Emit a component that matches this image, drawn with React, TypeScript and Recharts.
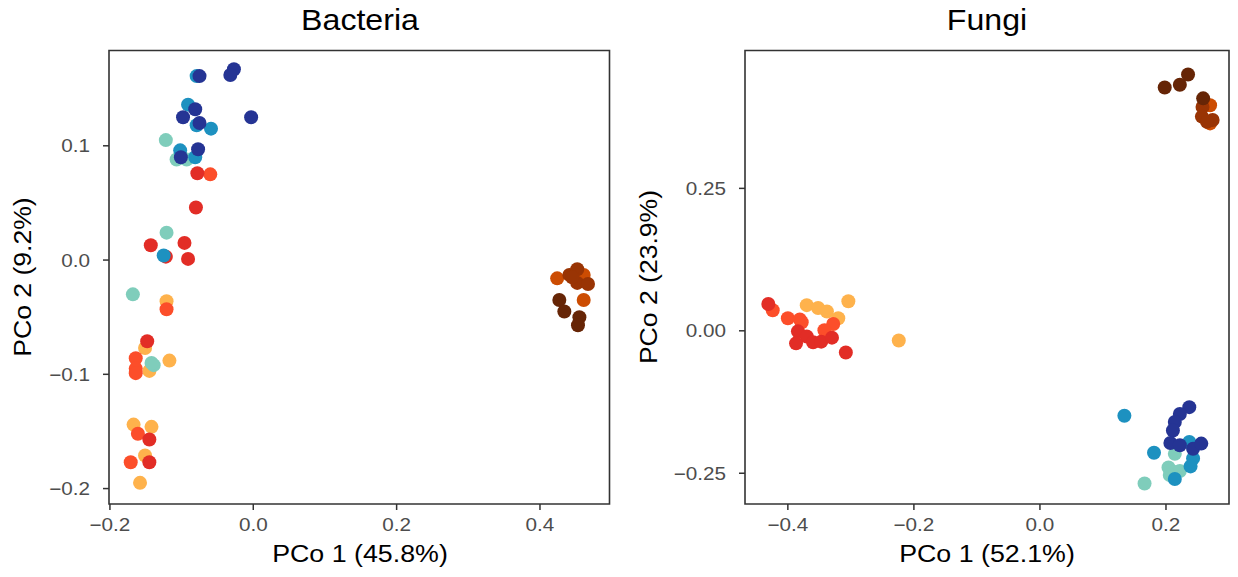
import React from 'react';
import { ScatterChart, Scatter, XAxis, YAxis, ReferenceArea } from 'recharts';

// ---------- Bacteria (left panel) ----------
const bactLightOrange = [
  { x: -0.121, y: -0.036 }, { x: -0.151, y: -0.077 }, { x: -0.117, y: -0.088 }, { x: -0.145, y: -0.097 },
  { x: -0.167, y: -0.144 }, { x: -0.142, y: -0.146 }, { x: -0.151, y: -0.171 }, { x: -0.158, y: -0.195 },
];
const bactOrangeRed = [
  { x: -0.060, y: 0.075 }, { x: -0.121, y: -0.043 }, { x: -0.164, y: -0.086 }, { x: -0.164, y: -0.095 },
  { x: -0.164, y: -0.099 }, { x: -0.161, y: -0.152 }, { x: -0.171, y: -0.177 },
];
const bactRed = [
  { x: -0.078, y: 0.076 }, { x: -0.080, y: 0.046 }, { x: -0.143, y: 0.013 }, { x: -0.096, y: 0.015 },
  { x: -0.122, y: 0.003 }, { x: -0.091, y: 0.001 }, { x: -0.148, y: -0.071 }, { x: -0.145, y: -0.157 },
  { x: -0.145, y: -0.177 },
];
const bactTeal = [
  { x: -0.122, y: 0.105 }, { x: -0.107, y: 0.088 }, { x: -0.093, y: 0.088 }, { x: -0.121, y: 0.024 },
  { x: -0.168, y: -0.030 }, { x: -0.139, y: -0.092 }, { x: -0.142, y: -0.090 },
];
const bactBlue = [
  { x: -0.079, y: 0.161 }, { x: -0.091, y: 0.136 }, { x: -0.079, y: 0.118 }, { x: -0.059, y: 0.115 },
  { x: -0.102, y: 0.096 }, { x: -0.081, y: 0.090 }, { x: -0.125, y: 0.004 },
];
const bactDarkBlue = [
  { x: -0.075, y: 0.161 }, { x: -0.027, y: 0.167 }, { x: -0.032, y: 0.162 }, { x: -0.081, y: 0.132 },
  { x: -0.098, y: 0.125 }, { x: -0.075, y: 0.120 }, { x: -0.003, y: 0.125 }, { x: -0.077, y: 0.097 },
  { x: -0.101, y: 0.090 },
];
const bactOrangeBrown = [
  { x: 0.424, y: -0.016 }, { x: 0.461, y: -0.013 }, { x: 0.461, y: -0.035 },
];
const bactBrown = [
  { x: 0.441, y: -0.013 }, { x: 0.452, y: -0.008 }, { x: 0.452, y: -0.020 }, { x: 0.467, y: -0.021 },
  { x: 0.445, y: -0.015 },
];
const bactDarkBrown = [
  { x: 0.427, y: -0.035 }, { x: 0.434, y: -0.045 }, { x: 0.455, y: -0.050 }, { x: 0.453, y: -0.057 },
];

// ---------- Fungi (right panel) ----------
const fungLightOrange = [
  { x: -0.370, y: 0.045 }, { x: -0.352, y: 0.040 }, { x: -0.338, y: 0.034 }, { x: -0.320, y: 0.022 },
  { x: -0.304, y: 0.052 }, { x: -0.224, y: -0.017 },
];
const fungOrangeRed = [
  { x: -0.424, y: 0.036 }, { x: -0.400, y: 0.022 }, { x: -0.381, y: 0.020 }, { x: -0.378, y: 0.015 },
  { x: -0.328, y: 0.012 }, { x: -0.342, y: 0.001 },
];
const fungRed = [
  { x: -0.431, y: 0.047 }, { x: -0.384, y: -0.001 }, { x: -0.370, y: -0.010 }, { x: -0.387, y: -0.022 },
  { x: -0.360, y: -0.020 }, { x: -0.347, y: -0.019 }, { x: -0.330, y: -0.012 }, { x: -0.308, y: -0.038 },
];
const fungTeal = [
  { x: 0.214, y: -0.216 }, { x: 0.204, y: -0.240 }, { x: 0.214, y: -0.248 }, { x: 0.222, y: -0.246 },
  { x: 0.206, y: -0.253 }, { x: 0.166, y: -0.268 },
];
const fungBlue = [
  { x: 0.134, y: -0.149 }, { x: 0.181, y: -0.214 }, { x: 0.237, y: -0.195 }, { x: 0.243, y: -0.224 },
  { x: 0.239, y: -0.238 }, { x: 0.214, y: -0.260 },
];
const fungDarkBlue = [
  { x: 0.237, y: -0.134 }, { x: 0.222, y: -0.146 }, { x: 0.214, y: -0.160 }, { x: 0.211, y: -0.175 },
  { x: 0.207, y: -0.197 }, { x: 0.222, y: -0.201 }, { x: 0.243, y: -0.207 }, { x: 0.256, y: -0.198 },
];
const fungOrangeBrown = [
  { x: 0.270, y: 0.396 }, { x: 0.270, y: 0.364 },
];
const fungBrown = [
  { x: 0.258, y: 0.393 }, { x: 0.257, y: 0.376 }, { x: 0.274, y: 0.370 }, { x: 0.265, y: 0.367 },
];
const fungDarkBrown = [
  { x: 0.198, y: 0.427 }, { x: 0.222, y: 0.432 }, { x: 0.235, y: 0.450 }, { x: 0.259, y: 0.408 },
];

// ---------- ticks ----------
const bactXTicks = [-0.2, 0.0, 0.2, 0.4];
const bactYTicks = [-0.2, -0.1, 0.0, 0.1];
const fungXTicks = [-0.4, -0.2, 0.0, 0.2];
const fungYTicks = [-0.25, 0.0, 0.25];

const COLORS = {
  lightOrange: '#feb24c',
  orangeRed: '#fc4e2a',
  red: '#e22d26',
  teal: '#7fcdbb',
  blue: '#1d91c0',
  darkBlue: '#253494',
  orangeBrown: '#cc4c02',
  brown: '#993404',
  darkBrown: '#662506',
};

const FONT = '"Liberation Sans", Arial, Helvetica, sans-serif';
const TICK_FS = 18;
const TICK_SX = 1.15;

const fmt = (digits: number) => (v: number) => {
  const s = Math.abs(v).toFixed(digits);
  return v < 0 ? '\u2212' + s : s;
};

const Dot = (props: any) => {
  const { cx, cy, fill } = props;
  if (cx == null || cy == null) return null;
  return <circle cx={cx} cy={cy} r={7} fill={fill} />;
};

const makeXTick = (f: (v: number) => string) => (props: any) => {
  const { x, y, payload } = props;
  return (
    <g transform={`translate(${x},${y})`}>
      <text transform={`scale(${TICK_SX},1)`} textAnchor="middle" dy="0.72em" fill="#4d4d4d" fontSize={TICK_FS} fontFamily={FONT}>
        {f(payload.value)}
      </text>
    </g>
  );
};
const makeYTick = (f: (v: number) => string) => (props: any) => {
  const { x, y, payload } = props;
  return (
    <g transform={`translate(${x},${y})`}>
      <text transform={`scale(${TICK_SX},1)`} textAnchor="end" dy="0.36em" fill="#4d4d4d" fontSize={TICK_FS} fontFamily={FONT}>
        {f(payload.value)}
      </text>
    </g>
  );
};

type Series = { data: { x: number; y: number }[]; color: string };

function Panel(props: {
  left: number; width: number; top: number; bottom: number; yAxisWidth: number; marginRight: number;
  xDomain: [number, number]; yDomain: [number, number];
  xTicks: number[]; yTicks: number[]; xDigits: number; yDigits: number;
  series: Series[];
}) {
  const { left, width, top, bottom, yAxisWidth, marginRight, xDomain, yDomain, xTicks, yTicks, xDigits, yDigits, series } = props;
  const XT = makeXTick(fmt(xDigits));
  const YT = makeYTick(fmt(yDigits));
  return (
    <div style={{ position: 'absolute', left, top: 0 }}>
      <ScatterChart width={width} height={577} margin={{ top, right: marginRight, bottom: 0, left: 0 }}>
        <XAxis
          type="number" dataKey="x" domain={xDomain} ticks={xTicks} allowDataOverflow
          height={577 - bottom} axisLine={false} tickLine={{ stroke: '#333333', strokeWidth: 1.5 }}
          tickSize={6} tickMargin={8} tick={<XT />} interval={0}
        />
        <YAxis
          type="number" dataKey="y" domain={yDomain} ticks={yTicks} allowDataOverflow
          width={yAxisWidth} axisLine={false} tickLine={{ stroke: '#333333', strokeWidth: 1.5 }}
          tickSize={6} tickMargin={13} tick={<YT />} interval={0}
        />
        {series.map((s, i) => (
          <Scatter key={i} data={s.data} fill={s.color} shape={<Dot />} isAnimationActive={false} />
        ))}
        <ReferenceArea
          x1={xDomain[0]} x2={xDomain[1]} y1={yDomain[0]} y2={yDomain[1]}
          fill="none" fillOpacity={0} stroke="#333333" strokeWidth={1.6} strokeOpacity={1} ifOverflow="visible"
        />
      </ScatterChart>
    </div>
  );
}

const textStyle: React.CSSProperties = {
  position: 'absolute', fontFamily: FONT, color: '#000', whiteSpace: 'nowrap', lineHeight: 1,
};
const centered = (sx: number) => `translate(-50%, -50%) scaleX(${sx})`;
const rotated = (sx: number) => `translate(-50%, -50%) rotate(-90deg) scaleX(${sx})`;

export default function App() {
  return (
    <div style={{ position: 'absolute', left: 0, top: 0, width: 1238, height: 577, background: '#fff', overflow: 'hidden' }}>
      <Panel
        left={0} width={620} top={50.5} bottom={504} yAxisWidth={109} marginRight={10.5}
        xDomain={[-0.2013, 0.497]} yDomain={[-0.2135, 0.1834]}
        xTicks={bactXTicks} yTicks={bactYTicks} xDigits={1} yDigits={1}
        series={[
          { data: bactLightOrange, color: COLORS.lightOrange },
          { data: bactOrangeRed, color: COLORS.orangeRed },
          { data: bactRed, color: COLORS.red },
          { data: bactTeal, color: COLORS.teal },
          { data: bactBlue, color: COLORS.blue },
          { data: bactDarkBlue, color: COLORS.darkBlue },
          { data: bactOrangeBrown, color: COLORS.orangeBrown },
          { data: bactBrown, color: COLORS.brown },
          { data: bactDarkBrown, color: COLORS.darkBrown },
        ]}
      />
      <Panel
        left={620} width={618} top={50.5} bottom={504} yAxisWidth={125} marginRight={9}
        xDomain={[-0.468, 0.300]} yDomain={[-0.304, 0.492]}
        xTicks={fungXTicks} yTicks={fungYTicks} xDigits={1} yDigits={2}
        series={[
          { data: fungLightOrange, color: COLORS.lightOrange },
          { data: fungOrangeRed, color: COLORS.orangeRed },
          { data: fungRed, color: COLORS.red },
          { data: fungTeal, color: COLORS.teal },
          { data: fungBlue, color: COLORS.blue },
          { data: fungDarkBlue, color: COLORS.darkBlue },
          { data: fungOrangeBrown, color: COLORS.orangeBrown },
          { data: fungBrown, color: COLORS.brown },
          { data: fungDarkBrown, color: COLORS.darkBrown },
        ]}
      />
      <div style={{ ...textStyle, left: 360, top: 20, fontSize: 30, transform: centered(1.07) }}>Bacteria</div>
      <div style={{ ...textStyle, left: 987, top: 20, fontSize: 30, transform: centered(1.07) }}>Fungi</div>
      <div style={{ ...textStyle, left: 360, top: 555, fontSize: 23.5, transform: centered(1.14) }}>PCo 1 (45.8%)</div>
      <div style={{ ...textStyle, left: 987, top: 555, fontSize: 23.5, transform: centered(1.14) }}>PCo 1 (52.1%)</div>
      <div style={{ ...textStyle, left: 23.5, top: 277, fontSize: 23.5, transform: rotated(1.13) }}>PCo 2 (9.2%)</div>
      <div style={{ ...textStyle, left: 650, top: 277, fontSize: 23.5, transform: rotated(1.13) }}>PCo 2 (23.9%)</div>
    </div>
  );
}
